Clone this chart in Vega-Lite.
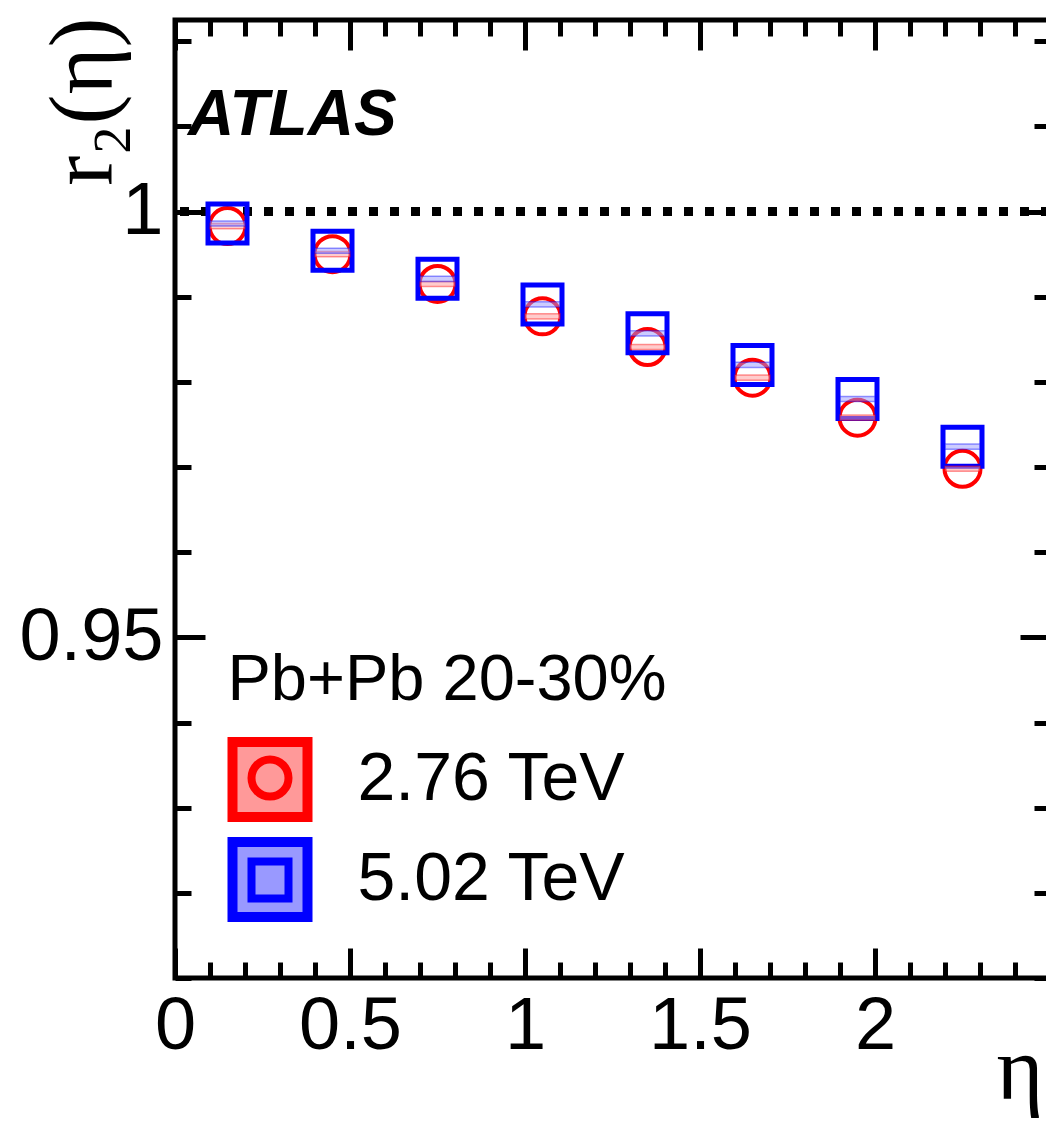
{
  "$schema": "https://vega.github.io/schema/vega-lite/v6.json",
  "width": 875,
  "height": 958,
  "autosize": {"type": "none"},
  "padding": {"left": 175, "top": 20, "right": 0, "bottom": 144},
  "background": "white",
  "title": {
    "text": "ATLAS",
    "anchor": "start",
    "frame": "group",
    "orient": "top",
    "offset": -195,
    "dx": 13,
    "baseline": "alphabetic",
    "font": "Liberation Sans",
    "fontSize": 64,
    "fontStyle": "italic",
    "fontWeight": "bold",
    "color": "black"
  },
  "data": {
    "values": [
      {"eta": 0.15, "energy": "2.76 TeV", "snn": 2.76, "r2": 0.9983, "sys_lo": 0.998, "sys_hi": 0.9986},
      {"eta": 0.45, "energy": "2.76 TeV", "snn": 2.76, "r2": 0.9950, "sys_lo": 0.9947, "sys_hi": 0.9953},
      {"eta": 0.75, "energy": "2.76 TeV", "snn": 2.76, "r2": 0.9915, "sys_lo": 0.9912, "sys_hi": 0.9918},
      {"eta": 1.05, "energy": "2.76 TeV", "snn": 2.76, "r2": 0.9877, "sys_lo": 0.9874, "sys_hi": 0.988},
      {"eta": 1.35, "energy": "2.76 TeV", "snn": 2.76, "r2": 0.9841, "sys_lo": 0.9838, "sys_hi": 0.9844},
      {"eta": 1.65, "energy": "2.76 TeV", "snn": 2.76, "r2": 0.9805, "sys_lo": 0.9802, "sys_hi": 0.9808},
      {"eta": 1.95, "energy": "2.76 TeV", "snn": 2.76, "r2": 0.9758, "sys_lo": 0.9755, "sys_hi": 0.9761},
      {"eta": 2.25, "energy": "2.76 TeV", "snn": 2.76, "r2": 0.9698, "sys_lo": 0.9695, "sys_hi": 0.9701},
      {"eta": 0.15, "energy": "5.02 TeV", "snn": 5.02, "r2": 0.9986, "sys_lo": 0.9983, "sys_hi": 0.9989},
      {"eta": 0.45, "energy": "5.02 TeV", "snn": 5.02, "r2": 0.9954, "sys_lo": 0.9951, "sys_hi": 0.9957},
      {"eta": 0.75, "energy": "5.02 TeV", "snn": 5.02, "r2": 0.9921, "sys_lo": 0.9918, "sys_hi": 0.9924},
      {"eta": 1.05, "energy": "5.02 TeV", "snn": 5.02, "r2": 0.9891, "sys_lo": 0.9888, "sys_hi": 0.9894},
      {"eta": 1.35, "energy": "5.02 TeV", "snn": 5.02, "r2": 0.9857, "sys_lo": 0.9854, "sys_hi": 0.986},
      {"eta": 1.65, "energy": "5.02 TeV", "snn": 5.02, "r2": 0.9820, "sys_lo": 0.9817, "sys_hi": 0.9823},
      {"eta": 1.95, "energy": "5.02 TeV", "snn": 5.02, "r2": 0.9780, "sys_lo": 0.9777, "sys_hi": 0.9783},
      {"eta": 2.25, "energy": "5.02 TeV", "snn": 5.02, "r2": 0.9724, "sys_lo": 0.9721, "sys_hi": 0.9727}
    ]
  },
  "layer": [
    {
      "mark": {"type": "rule", "strokeDash": [9, 12], "strokeWidth": 8, "color": "black"},
      "encoding": {
        "y": {"datum": 1, "type": "quantitative", "axis": null}
      }
    },
    {
      "mark": {"type": "point", "filled": false, "opacity": 1},
      "encoding": {
        "x": {
          "field": "eta", "type": "quantitative",
          "scale": {"domain": [0, 2.5], "nice": false, "zero": false},
          "axis": {
            "orient": "bottom",
            "values": [0, 0.1, 0.2, 0.3, 0.4, 0.5, 0.6, 0.7, 0.8, 0.9, 1, 1.1, 1.2, 1.3, 1.4, 1.5, 1.6, 1.7, 1.8, 1.9, 2, 2.1, 2.2, 2.3, 2.4, 2.5],
            "format": "~g",
            "labelExpr": "(abs(datum.value*2-round(datum.value*2))<0.001 && datum.value < 2.4) ? datum.label : ''",
            "tickSize": {"condition": {"test": "abs(datum.value*2-round(datum.value*2))<0.001", "value": -30}, "value": -16},
            "labelPadding": 42,
            "title": "η",
            "titleFont": "Liberation Serif",
            "titleFontSize": 90,
            "titleX": 868,
            "titleY": 120,
            "titleAlign": "right",
            "titleBaseline": "alphabetic"
          }
        },
        "y": {
          "field": "r2", "type": "quantitative",
          "scale": {"domain": [0.91, 1.0225], "nice": false, "zero": false},
          "axis": {
            "orient": "left",
            "values": [0.91, 0.92, 0.93, 0.94, 0.95, 0.96, 0.97, 0.98, 0.99, 1, 1.01, 1.02],
            "format": "~g",
            "labelExpr": "abs(datum.value*20-round(datum.value*20))<0.001 ? datum.label : ''",
            "tickSize": {"condition": {"test": "abs(datum.value*20-round(datum.value*20))<0.001", "value": -30}, "value": -16},
            "labelPadding": 42,
            "labelBaseline": "middle",
            "title": "r₂(η)",
            "titleFont": "Liberation Serif",
            "titleFontSize": 90,
            "titleAngle": -90,
            "titleX": -64,
            "titleY": -3,
            "titleAlign": "right",
            "titleBaseline": "alphabetic"
          }
        },
        "color": {
          "field": "snn", "type": "nominal",
          "scale": {"domain": [2.76, 5.02], "range": ["#ff0000", "#0000ff"]},
          "legend": {
            "orient": "none",
            "legendX": 72.5,
            "legendY": 735.5,
            "title": null,
            "labelExpr": "''",
            "labelFontSize": 10,
            "symbolSize": 1369,
            "symbolStrokeWidth": 8,
            "rowPadding": 33,
            "padding": 0,
            "zindex": 3,
            "encode": {
              "symbols": {
                "update": {
                  "fill": {"value": "transparent"},
                  "opacity": {"value": 1},
                  "strokeWidth": {"signal": "datum.value < 3 ? 4 : 8"},
                  "size": {"signal": "datum.value < 3 ? 1156 : 1369"}
                }
              }
            }
          }
        },
        "shape": {
          "field": "snn", "type": "nominal",
          "scale": {"domain": [2.76, 5.02], "range": ["circle", "square"]}
        },
        "size": {"condition": {"test": "datum.snn < 3", "value": 1296}, "value": 1521},
        "strokeWidth": {"condition": {"test": "datum.snn < 3", "value": 4}, "value": 5},
        "fill": {"condition": {"test": "datum.snn < 3", "value": "white"}, "value": "transparent"}
      }
    },
    {
      "mark": {"type": "rect", "width": 35, "fillOpacity": 0.5, "strokeWidth": 1.5, "strokeOpacity": 0.4},
      "encoding": {
        "x": {
          "field": "eta", "type": "quantitative",
          "axis": {
            "orient": "top",
            "values": [0, 0.1, 0.2, 0.3, 0.4, 0.5, 0.6, 0.7, 0.8, 0.9, 1, 1.1, 1.2, 1.3, 1.4, 1.5, 1.6, 1.7, 1.8, 1.9, 2, 2.1, 2.2, 2.3, 2.4, 2.5],
            "labels": false,
            "tickSize": {"condition": {"test": "abs(datum.value*2-round(datum.value*2))<0.001", "value": -30}, "value": -16},
            "title": null
          }
        },
        "y": {
          "field": "sys_lo", "type": "quantitative",
          "axis": {
            "orient": "right",
            "values": [0.91, 0.92, 0.93, 0.94, 0.95, 0.96, 0.97, 0.98, 0.99, 1, 1.01, 1.02],
            "labels": false,
            "tickSize": {"condition": {"test": "abs(datum.value*20-round(datum.value*20))<0.001", "value": -30}, "value": -16},
            "title": null
          }
        },
        "y2": {"field": "sys_hi"},
        "fill": {
          "field": "energy", "type": "nominal",
          "scale": {"domain": ["2.76 TeV", "5.02 TeV"], "range": ["#ff9999", "#9999ff"]},
          "legend": {
            "orient": "none",
            "legendX": 52.5,
            "legendY": 629,
            "title": "Pb+Pb 20-30%",
            "titleFont": "Liberation Sans",
            "titleFontSize": 65,
            "titleFontWeight": "normal",
            "titleColor": "black",
            "titlePadding": 23,
            "titleLimit": 1000,
            "labelFont": "Liberation Sans",
            "labelFontSize": 68,
            "labelColor": "black",
            "labelLimit": 1000,
            "labelOffset": 45,
            "symbolType": "square",
            "symbolSize": 5625,
            "symbolStrokeWidth": 10,
            "rowPadding": -15,
            "padding": 0,
            "zindex": 1,
            "encode": {
              "symbols": {
                "update": {
                  "opacity": {"value": 1},
                  "fillOpacity": {"value": 1},
                  "strokeOpacity": {"value": 1}
                }
              }
            }
          }
        },
        "stroke": {
          "field": "energy", "type": "nominal",
          "scale": {"domain": ["2.76 TeV", "5.02 TeV"], "range": ["#ff0000", "#0000ff"]}
        }
      }
    }
  ],
  "resolve": {"axis": {"x": "independent", "y": "independent"}},
  "config": {
    "view": {"stroke": "black", "strokeWidth": 5},
    "axis": {
      "domain": false,
      "grid": false,
      "ticks": true,
      "tickColor": "black",
      "tickWidth": 5,
      "labelColor": "black",
      "labelFont": "Liberation Sans",
      "labelFontSize": 74,
      "labelOverlap": false,
      "labelFlush": false,
      "labelBound": false,
      "titleColor": "black",
      "titleFontWeight": "normal"
    }
  }
}
